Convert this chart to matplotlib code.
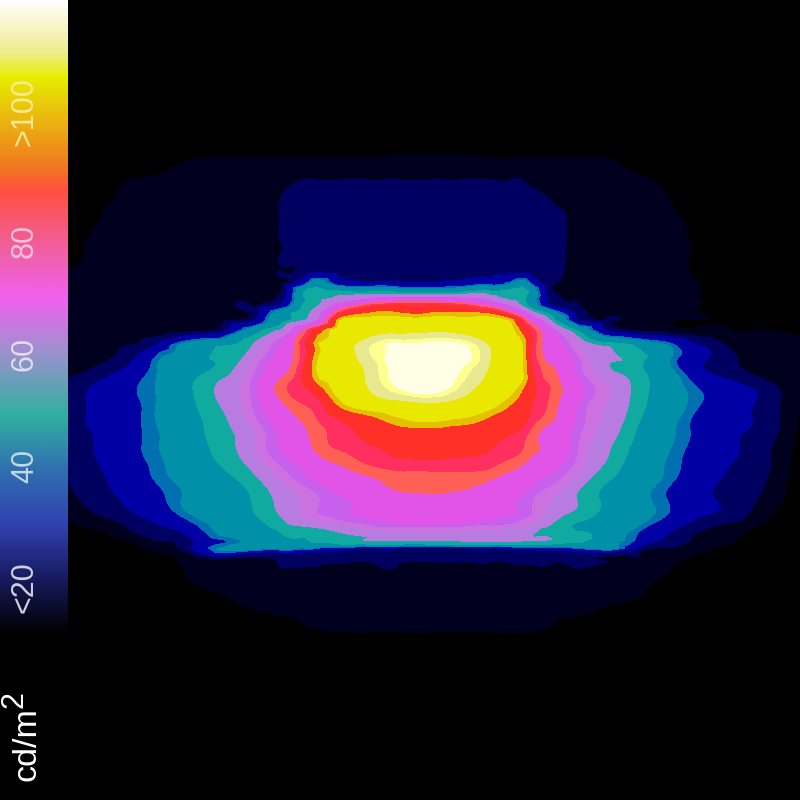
import numpy as np
import matplotlib
matplotlib.use('Agg')
import matplotlib.pyplot as plt
import matplotlib.tri as mtri
from matplotlib.colors import LinearSegmentedColormap

plt.rcParams['font.family'] = ['Liberation Sans', 'DejaVu Sans']

xs = [68, 100, 130, 160, 190, 220, 250, 280, 305, 318, 340, 370, 400, 430, 460, 490, 510, 522, 532, 550, 580, 610, 640, 670, 700, 730, 760, 800]
ys = [145, 165, 180, 200, 220, 240, 255, 270, 284, 291, 298, 306, 313, 320, 330, 345, 360, 375, 390, 405, 420, 435, 450, 465, 480, 495, 510, 525, 538, 544, 548, 553, 560, 572, 590, 615, 632, 640]
lum = [
    [8, 8, 8, 8, 8, 8, 8, 8, 8, 8, 8, 8, 8, 8, 8, 8, 8, 8, 8, 8, 8, 8, 8, 8, 8, 8, 8, 8],
    [8, 8, 8, 10, 13, 14, 14, 14, 14, 14, 14, 14, 15, 15, 15, 14, 14, 14, 14, 14, 14, 13, 10, 8, 8, 8, 8, 8],
    [8, 9, 12, 13, 14, 15, 15, 16, 17, 17, 17, 17, 17, 17, 17, 17, 17, 17, 16, 16, 15, 14, 13, 10, 8, 8, 8, 8],
    [8, 11, 13, 14, 14, 15, 16, 17, 18, 18, 18, 19, 19, 19, 19, 19, 18, 18, 18, 17, 16, 15, 14, 12, 8, 8, 8, 8],
    [9, 12, 14, 14, 14, 15, 16, 17, 18, 18, 19, 19, 19, 19, 19, 19, 19, 18, 18, 18, 16, 15, 14, 13, 10, 8, 8, 8],
    [10, 13, 14, 14, 14, 15, 16, 17, 18, 18, 19, 19, 19, 19, 19, 19, 19, 18, 18, 18, 16, 15, 14, 13, 11, 8, 8, 8],
    [11, 13, 14, 14, 14, 15, 16, 17, 18, 18, 19, 19, 19, 19, 19, 19, 19, 18, 18, 18, 16, 15, 14, 13, 11, 8, 8, 8],
    [12, 13, 14, 14, 14, 14, 15, 17, 18, 19, 19, 19, 19, 19, 19, 19, 19, 19, 19, 18, 16, 15, 14, 13, 11, 8, 8, 8],
    [13, 13, 14, 14, 14, 14, 15, 16, 30, 40, 26, 24, 24, 24, 25, 28, 33, 40, 30, 18, 15, 14, 14, 13, 12, 10, 8, 8],
    [13, 13, 14, 14, 14, 15, 15, 16, 44, 45, 44, 42, 40, 40, 41, 44, 46, 47, 40, 18, 15, 14, 14, 13, 12, 10, 8, 8],
    [13, 13, 14, 14, 15, 15, 16, 18, 44, 48, 52, 58, 62, 62, 60, 54, 48, 46, 38, 20, 16, 14, 14, 13, 12, 10, 8, 8],
    [13, 13, 13, 14, 14, 15, 17, 24, 46, 50, 66, 80, 84, 84, 82, 72, 60, 50, 40, 24, 17, 15, 14, 13, 12, 10, 8, 8],
    [13, 13, 13, 14, 14, 15, 17, 38, 48, 56, 80, 90, 90, 90, 90, 88, 76, 66, 54, 40, 19, 16, 14, 13, 12, 10, 9, 8],
    [13, 13, 13, 14, 15, 16, 19, 40, 50, 60, 93, 96, 97, 97, 97, 96, 92, 80, 68, 50, 20, 17, 15, 13, 12, 11, 10, 10],
    [13, 13, 13, 14, 15, 18, 36, 50, 74, 86, 98, 99, 101, 102, 101, 99, 96, 88, 80, 64, 40, 20, 16, 14, 13, 12, 12, 11],
    [13, 14, 17, 24, 37, 43, 49, 64, 82, 93, 99, 109, 116, 118, 116, 103, 99, 94, 82, 70, 55, 48, 41, 32, 22, 16, 14, 13],
    [13, 16, 21, 33, 39, 45, 54, 68, 82, 94, 100, 108, 118, 122, 118, 104, 98, 95, 82, 73, 60, 51, 46, 33, 23, 18, 15, 13],
    [16, 20, 26, 34, 41, 48, 58, 72, 84, 94, 99, 106, 118, 123, 113, 102, 98, 95, 84, 76, 62, 52, 46, 36, 25, 20, 16, 13],
    [19, 24, 29, 34, 43, 51, 60, 76, 81, 86, 97, 104, 113, 118, 108, 100, 96, 90, 84, 78, 66, 56, 47, 37, 30, 25, 21, 12],
    [19, 24, 28, 34, 42, 50, 59, 72, 78, 80, 91, 98, 100, 102, 100, 96, 90, 86, 82, 77, 63, 55, 46, 37, 30, 25, 21, 12],
    [19, 24, 28, 34, 41, 48, 57, 68, 75, 78, 82, 87, 93, 95, 93, 88, 85, 84, 80, 75, 62, 54, 44, 35, 28, 24, 21, 11],
    [19, 23, 28, 33, 40, 47, 54, 65, 73, 76, 80, 83, 85, 86, 85, 84, 82, 80, 76, 71, 60, 52, 42, 34, 28, 23, 20, 11],
    [18, 23, 28, 33, 39, 46, 54, 64, 71, 75, 78, 81, 83, 84, 83, 82, 80, 78, 75, 72, 59, 50, 40, 33, 27, 23, 19, 10],
    [18, 22, 27, 32, 38, 44, 51, 60, 66, 70, 74, 78, 80, 80, 80, 79, 76, 74, 71, 67, 57, 48, 38, 32, 26, 22, 19, 9],
    [17, 21, 26, 31, 36, 41, 47, 56, 62, 65, 69, 73, 76, 77, 76, 74, 71, 69, 66, 62, 53, 44, 37, 31, 25, 21, 18, 9],
    [16, 20, 24, 29, 34, 38, 44, 52, 57, 60, 64, 69, 72, 73, 72, 69, 66, 64, 61, 57, 49, 41, 35, 29, 24, 20, 17, 8],
    [14, 18, 22, 27, 34, 38, 43, 51, 57, 60, 63, 66, 68, 69, 68, 67, 65, 63, 60, 55, 49, 41, 36, 30, 24, 21, 15, 8],
    [11, 14, 18, 22, 28, 35, 41, 47, 51, 53, 56, 60, 62, 63, 62, 60, 58, 56, 54, 50, 43, 38, 33, 25, 19, 16, 12, 8],
    [8, 10, 14, 18, 22, 31, 36, 41, 44, 46, 48, 51, 52, 52, 52, 52, 52, 51, 51, 50, 46, 37, 28, 21, 16, 13, 9, 8],
    [8, 9, 11, 16, 20, 30, 35, 38, 40, 42, 44, 45, 45, 45, 45, 46, 46, 46, 46, 45, 42, 36, 25, 19, 15, 12, 8, 8],
    [8, 8, 10, 14, 21, 33, 36, 35, 33, 31, 28, 22, 21, 21, 21, 23, 25, 26, 26, 27, 32, 36, 20, 17, 14, 10, 8, 8],
    [8, 8, 9, 12, 17, 30, 24, 22, 21, 21, 20, 19, 19, 19, 19, 19, 19, 19, 19, 20, 21, 20, 17, 15, 12, 8, 8, 8],
    [8, 8, 8, 11, 14, 15, 16, 18, 19, 19, 19, 19, 19, 19, 19, 19, 19, 19, 19, 19, 19, 16, 15, 13, 10, 8, 8, 8],
    [8, 8, 8, 9, 13, 14, 14, 14, 14, 14, 14, 14, 14, 14, 14, 14, 14, 14, 14, 14, 14, 14, 14, 12, 9, 8, 8, 8],
    [8, 8, 8, 8, 10, 13, 14, 14, 14, 14, 14, 14, 14, 14, 14, 14, 14, 14, 14, 14, 14, 14, 13, 9, 8, 8, 8, 8],
    [8, 8, 8, 8, 8, 8, 10, 12, 13, 14, 14, 14, 14, 14, 14, 14, 14, 14, 14, 13, 12, 9, 8, 8, 8, 8, 8, 8],
    [8, 8, 8, 8, 8, 8, 8, 8, 11, 11, 12, 12, 12, 12, 12, 12, 12, 12, 12, 11, 8, 8, 8, 8, 8, 8, 8, 8],
    [8, 8, 8, 8, 8, 8, 8, 8, 8, 8, 8, 8, 8, 8, 8, 8, 8, 8, 8, 8, 8, 8, 8, 8, 8, 8, 8, 8],
]

# false colour bands of the map
band_edges = [0, 12, 17, 22, 30, 33, 44, 50, 56, 60, 64, 74, 78, 82, 90, 94, 104, 110, 114, 140]
band_colors = ['#000000', '#00001e', '#000060', '#0000a5', '#0070b0', '#0090a8', '#10aaa0', '#b87ce0',
               '#cc72e0', '#c860ee', '#e253e8', '#ff6055', '#ff3060', '#ff3028', '#e4c000', '#e8e800',
               '#e8e890', '#ffff90', '#ffffe6']

# colour scale on the left, stops go from the bottom to the top of the bar
bar_stops = [0.0, 0.09, 0.17, 0.26, 0.345, 0.45, 0.53, 0.61, 0.70, 0.74, 0.88, 0.92, 1.0]
bar_colors = ['#000000', '#181c60', '#3040b0', '#3070b0', '#30b0a0', '#a090d0', '#f060f0', '#f0609f',
              '#ff5040', '#f07a20', '#e6ee00', '#f0ec90', '#ffffff']
bar_ticks = ['<20', '40', '60', '80', '>100']
bar_tick_y = [587, 466, 354, 241, 111]
bar_tick_colors = ['#d0d0e0', '#c0d8e8', '#e8d8f0', '#ffc0e0', '#ffe890']

fig = plt.figure(figsize=(8, 8), dpi=100, facecolor='black')
ax = fig.add_axes([0, 0, 1, 1])
ax.set_facecolor('black')

# smooth the band outlines with matplotlib's own refiner
X, Y = np.meshgrid(xs, ys)
triang = mtri.Triangulation(X.ravel().astype(float), Y.ravel().astype(float))
z = np.array(lum, dtype=float).ravel()
refiner = mtri.UniformTriRefiner(triang)
cubic = mtri.CubicTriInterpolator(triang, z, kind='min_E')
linear = mtri.LinearTriInterpolator(triang, z)
fine_tri, fine_cubic = refiner.refine_field(z, triinterpolator=cubic, subdiv=3)
fine_tri, fine_linear = refiner.refine_field(z, triinterpolator=linear, subdiv=3)
# the cubic rings next to the sharp bottom edge, keep it near the linear surface
fine_lum = np.clip(fine_cubic, fine_linear - 1.5, fine_linear + 1.5)
ax.tricontourf(fine_tri, np.clip(fine_lum, 1, 139), levels=band_edges, colors=band_colors)

bar_cmap = LinearSegmentedColormap.from_list('bar', list(zip(bar_stops, bar_colors)))
ramp = np.linspace(1, 0, 256).reshape(-1, 1)
ax.imshow(ramp, cmap=bar_cmap, extent=(0, 68, 635, 0), aspect='auto', zorder=3)
ax.set_xlim(0, 800)
ax.set_ylim(800, 0)
ax.axis('off')

for lab, y, c in zip(bar_ticks, bar_tick_y, bar_tick_colors):
    ax.text(25, y, lab, color=c, fontsize=22, rotation=90, ha='center', va='center', zorder=4)

ax.text(27, 781, 'cd/m', color='white', fontsize=24.5, rotation=90, ha='center', va='bottom', zorder=4)
ax.text(14, 708, '2', color='white', fontsize=22, rotation=90, ha='center', va='bottom', zorder=4)

fig.savefig('out.png', dpi=100, facecolor='black')
